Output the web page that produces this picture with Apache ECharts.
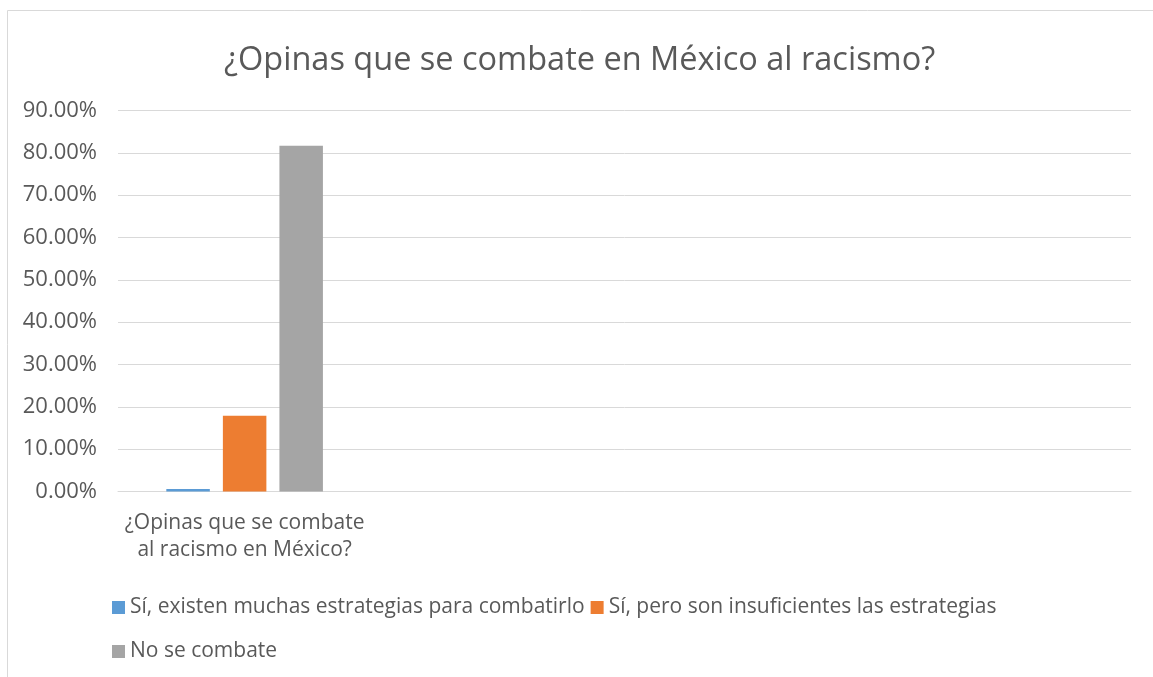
<!DOCTYPE html>
<html>
<head>
<meta charset="utf-8">
<script src="https://cdn.jsdelivr.net/npm/echarts@6/dist/echarts.min.js"></script>
<style>html,body{margin:0;padding:0;background:#fff}#c{width:1153px;height:677px}</style>
</head>
<body>
<div id="c"></div>
<script>
const title = '¿Opinas que se combate en México al racismo?';
const categories = ['¿Opinas que se combate\nal racismo en México?', '', '', ''];
const seriesNames = ['Sí, existen muchas estrategias para combatirlo', 'Sí, pero son insuficientes las estrategias', 'No se combate'];
const seriesA = [0.6, '-', '-', '-'];
const seriesB = [17.9, '-', '-', '-'];
const seriesC = [81.7, '-', '-', '-'];
const colors = ['#5B9BD5', '#ED7D31', '#A5A5A5'];
const yTicks = { min: 0, max: 90, interval: 10 };

const FONT = 'Open Sans';
const TXT = '#595959';
const chart = echarts.init(document.getElementById('c'));
const data = [seriesA, seriesB, seriesC];
chart.setOption({
  animation: false,
  color: colors,
  textStyle: { fontFamily: FONT },
  graphic: [{
    type: 'rect', shape: { x: 7.5, y: 10.5, width: 1160, height: 700 },
    style: { fill: 'none', stroke: '#D9D9D9', lineWidth: 1 }, silent: true
  }],
  title: {
    text: title, left: 219, top: 39,
    textStyle: { fontFamily: FONT, fontSize: 32.5, fontWeight: 'normal', color: TXT }
  },
  legend: [{
    data: seriesNames.slice(0, 2), left: 107, top: 592, itemWidth: 13, itemHeight: 13, itemGap: 6,
    icon: 'rect', textStyle: { fontFamily: FONT, fontSize: 21, color: TXT, padding: [0, 0, 0, 0] }
  }, {
    data: seriesNames.slice(2), left: 107, top: 636, itemWidth: 13, itemHeight: 13, itemGap: 6,
    icon: 'rect', textStyle: { fontFamily: FONT, fontSize: 21, color: TXT, padding: [0, 0, 0, 0] }
  }],
  grid: { left: 118, right: 22, top: 110.5, bottom: 185.5, containLabel: false },
  xAxis: {
    type: 'category', data: categories,
    axisLine: { lineStyle: { color: '#D9D9D9' } },
    axisTick: { show: false },
    axisLabel: { color: TXT, fontFamily: FONT, fontSize: 21, margin: 18, lineHeight: 27, interval: 0 }
  },
  yAxis: {
    type: 'value', min: yTicks.min, max: yTicks.max, interval: yTicks.interval,
    axisLine: { show: false }, axisTick: { show: false },
    splitLine: { lineStyle: { color: '#D9D9D9' } },
    axisLabel: { color: TXT, fontFamily: FONT, fontSize: 22, margin: 21, formatter: v => v.toFixed(2) + '%' }
  },
  series: seriesNames.map((n, i) => ({
    name: n, type: 'bar', data: data[i], barWidth: 43.5, barGap: '30%'
  }))
});
</script>
</body>
</html>
